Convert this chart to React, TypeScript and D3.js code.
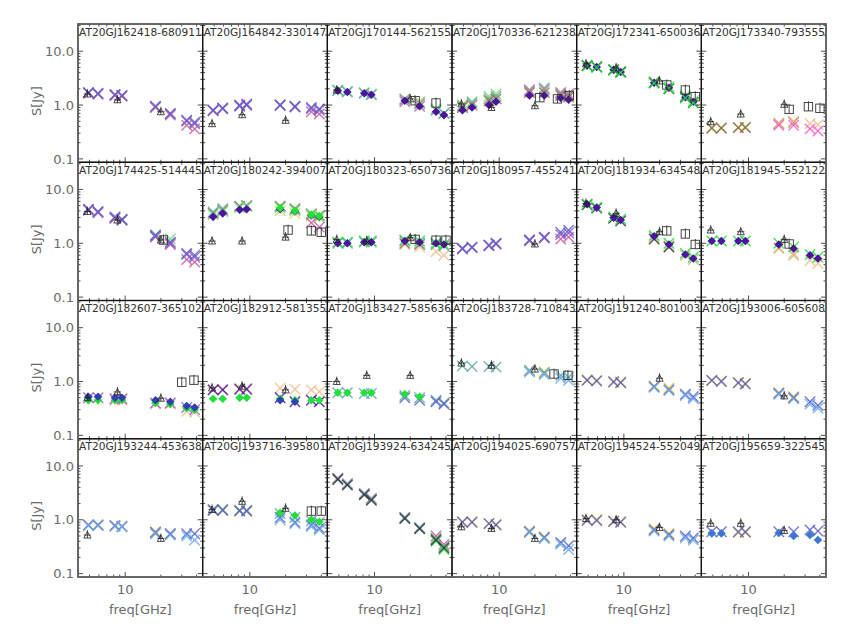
import React from "react";
import * as d3 from "d3";

const TITLES = [
  "AT20GJ162418-680911", "AT20GJ164842-330147", "AT20GJ170144-562155", "AT20GJ170336-621238", "AT20GJ172341-650036", "AT20GJ173340-793555",
  "AT20GJ174425-514445", "AT20GJ180242-394007", "AT20GJ180323-650736", "AT20GJ180957-455241", "AT20GJ181934-634548", "AT20GJ181945-552122",
  "AT20GJ182607-365102", "AT20GJ182912-581355", "AT20GJ183427-585636", "AT20GJ183728-710843", "AT20GJ191240-801003", "AT20GJ193006-605608",
  "AT20GJ193244-453638", "AT20GJ193716-395801", "AT20GJ193924-634245", "AT20GJ194025-690757", "AT20GJ194524-552049", "AT20GJ195659-322545",
];

// frequencies (GHz) of the multi-epoch measurements
const FREQS = [4.9, 5.9, 8.2, 9.4, 18, 24, 33, 38.5];
// AT20G frequencies (triangles)
const TRI_FREQS = [4.8, 8.6, 20];

const X_TICKS_MAJOR = [10];
const X_TICKS_MINOR = [5, 6, 7, 8, 9, 20, 30, 40];
const Y_TICKS_MAJOR = [0.1, 1, 10];
const Y_TICK_LABELS = ["0.1", "1.0", "10.0"];
const Y_TICKS_MINOR = [0.2, 0.3, 0.4, 0.5, 0.6, 0.7, 0.8, 0.9, 2, 3, 4, 5, 6, 7, 8, 9, 20, 30];

type S = { c: string; m: "x" | "d"; v: (number | null)[] };
const _ = null;

const BLUE = "#5a62c8", PURPLE = "#9a5ac8", MAGENTA = "#c85aa8", DPURPLE = "#4b14a0", GREEN = "#6fdc6f",
  BGREEN = "#22e03a", TEAL = "#5fa8a8", BROWN = "#a8643c", TAN = "#f0c090", ORANGE = "#e8b428",
  LBLUE = "#6aaaf0", PINK = "#ff5ad0", LIME = "#c8e050", DARK = "#2a3a3a", KHAKI = "#c8b878", DBLUE = "#3a78d0", NAVY = "#3040b0";

const SERIES_ROW1: S[][] = [
  [
    { c: PURPLE, m: "x", v: [1.7, 1.6, 1.55, 1.5, 0.92, 0.68, 0.5, 0.45] },
    { c: MAGENTA, m: "x", v: [1.65, 1.6, 1.5, 1.45, 0.9, 0.65, 0.42, 0.36] },
    { c: BLUE, m: "x", v: [1.7, 1.65, 1.55, 1.5, 0.95, 0.7, 0.52, 0.48] },
  ],
  [
    { c: MAGENTA, m: "x", v: [0.78, 0.85, 1.0, 1.05, 0.98, 0.92, 0.75, 0.68] },
    { c: PURPLE, m: "x", v: [0.8, 0.86, 0.95, 1.0, 1.0, 0.93, 0.85, 0.8] },
    { c: BLUE, m: "x", v: [0.8, 0.88, 0.98, 1.0, 1.0, 0.95, 0.9, 0.85] },
  ],
  [
    { c: GREEN, m: "x", v: [1.9, 1.8, 1.7, 1.6, 1.3, 1.1, 0.85, 0.7] },
    { c: KHAKI, m: "x", v: [_, _, _, _, 1.3, 1.15, _, _] },
    { c: TEAL, m: "x", v: [1.85, 1.75, 1.65, 1.55, 1.25, 1.05, 0.8, 0.7] },
    { c: MAGENTA, m: "x", v: [_, _, _, _, 1.15, 0.95, _, _] },
    { c: DPURPLE, m: "d", v: [1.85, 1.75, 1.65, 1.55, 1.2, 0.95, 0.75, 0.65] },
  ],
  [
    { c: GREEN, m: "x", v: [1.0, 1.15, 1.45, 1.6, 1.9, 2.1, 1.7, 1.6] },
    { c: PINK, m: "x", v: [_, _, _, _, 1.9, 2.0, 1.7, 1.6] },
    { c: TEAL, m: "x", v: [0.95, 1.1, 1.3, 1.45, 1.8, 1.9, 1.6, 1.5] },
    { c: BROWN, m: "x", v: [0.9, 1.0, 1.2, 1.3, 1.7, 1.7, 1.5, 1.4] },
    { c: DPURPLE, m: "d", v: [0.8, 0.9, 1.0, 1.15, 1.5, 1.5, 1.35, 1.25] },
  ],
  [
    { c: GREEN, m: "x", v: [5.5, 5.2, 4.6, 4.2, 2.7, 2.2, 1.5, 1.2] },
    { c: DARK, m: "x", v: [5.4, 5.1, 4.5, 4.1, 2.6, 2.0, 1.4, 1.1] },
    { c: DPURPLE, m: "d", v: [5.4, 5.1, 4.5, 4.1, 2.6, 2.1, 1.4, 1.15] },
    { c: BGREEN, m: "x", v: [5.3, 5.0, 4.4, 4.0, 2.55, 2.05, 1.35, 1.1] },
  ],
  [
    { c: GREEN, m: "x", v: [0.38, 0.38, 0.38, 0.39, 0.46, _, _, _] },
    { c: BROWN, m: "x", v: [0.37, 0.37, 0.38, 0.38, 0.45, 0.48, _, _] },
    { c: TAN, m: "x", v: [_, _, _, _, 0.45, 0.5, 0.45, 0.43] },
    { c: PINK, m: "x", v: [_, _, _, _, 0.42, 0.42, 0.36, 0.33] },
  ],
];

const SERIES_ROW2: S[][] = [
  [
    { c: GREEN, m: "x", v: [_, _, 2.9, 2.7, 1.45, 1.2, _, _] },
    { c: MAGENTA, m: "x", v: [4.1, 3.7, 2.9, 2.7, 1.3, 0.95, 0.5, 0.45] },
    { c: PURPLE, m: "x", v: [4.2, 3.8, 3.0, 2.7, 1.35, 1.0, 0.62, 0.55] },
    { c: BLUE, m: "x", v: [4.3, 3.9, 3.1, 2.8, 1.4, 1.05, 0.65, 0.6] },
  ],
  [
    { c: BROWN, m: "x", v: [3.6, 4.1, 4.9, 5.0, 4.9, 4.4, 3.5, 3.3] },
    { c: TEAL, m: "x", v: [3.8, 4.4, 4.8, 5.0, 4.7, 4.2, 3.5, 3.2] },
    { c: LIME, m: "x", v: [_, _, _, _, 4.0, 3.6, 3.2, 3.0] },
    { c: GREEN, m: "x", v: [3.4, 3.9, 4.6, 4.8, 4.6, 4.1, 3.4, 3.2] },
    { c: MAGENTA, m: "x", v: [_, _, _, _, _, _, 2.4, 2.0] },
    { c: DPURPLE, m: "d", v: [3.1, 3.6, 4.2, 4.3, 4.3, 3.9, 3.3, 3.1] },
    { c: BGREEN, m: "d", v: [_, _, _, _, 4.5, 4.0, 3.4, 3.2] },
  ],
  [
    { c: TAN, m: "x", v: [_, _, _, _, 0.95, 0.85, 0.7, 0.6] },
    { c: BROWN, m: "x", v: [_, _, _, _, 1.0, 0.95, _, _] },
    { c: TEAL, m: "x", v: [1.0, 1.0, 1.05, 1.05, 1.1, 1.0, 0.95, 0.9] },
    { c: BGREEN, m: "x", v: [1.05, 1.05, 1.1, 1.1, 1.15, 1.1, 1.0, 0.95] },
    { c: DPURPLE, m: "d", v: [1.0, 1.0, 1.05, 1.05, 1.1, 1.05, 1.0, 0.95] },
  ],
  [
    { c: MAGENTA, m: "x", v: [0.78, 0.83, 0.9, 0.97, 1.1, 1.25, 1.2, 1.3] },
    { c: PURPLE, m: "x", v: [0.8, 0.84, 0.92, 0.98, 1.15, 1.28, 1.45, 1.55] },
    { c: BLUE, m: "x", v: [0.8, 0.85, 0.92, 1.0, 1.15, 1.3, 1.6, 1.75] },
  ],
  [
    { c: KHAKI, m: "x", v: [_, _, _, _, 1.3, 0.9, 0.6, 0.5] },
    { c: DARK, m: "x", v: [5.2, 4.5, 2.9, 2.6, 1.2, 0.85, _, _] },
    { c: BGREEN, m: "x", v: [5.4, 4.7, 3.1, 2.8, 1.4, 1.0, 0.65, 0.55] },
    { c: DPURPLE, m: "d", v: [5.3, 4.6, 3.0, 2.7, 1.35, 0.95, 0.62, 0.52] },
  ],
  [
    { c: TAN, m: "x", v: [_, _, _, _, 0.85, 0.65, 0.48, 0.42] },
    { c: KHAKI, m: "x", v: [_, _, _, _, 0.8, 0.6, _, _] },
    { c: BGREEN, m: "x", v: [1.1, 1.1, 1.1, 1.1, 1.0, 0.85, 0.62, 0.55] },
    { c: DPURPLE, m: "d", v: [1.1, 1.1, 1.1, 1.1, 0.95, 0.8, 0.6, 0.52] },
  ],
];

const SERIES_ROW3: S[][] = [
  [
    { c: TAN, m: "x", v: [_, _, 0.45, 0.45, 0.38, 0.38, 0.28, 0.27] },
    { c: PURPLE, m: "x", v: [0.5, 0.5, 0.48, 0.48, 0.4, 0.4, 0.33, 0.3] },
    { c: BGREEN, m: "d", v: [0.45, 0.45, 0.45, 0.45, 0.4, 0.38, 0.32, 0.3] },
    { c: NAVY, m: "d", v: [0.52, 0.52, 0.5, 0.5, 0.45, 0.42, 0.35, 0.33] },
  ],
  [
    { c: TAN, m: "x", v: [0.72, 0.72, 0.75, 0.75, 0.75, 0.72, 0.7, 0.65] },
    { c: DPURPLE, m: "x", v: [0.7, 0.7, 0.72, 0.72, 0.5, 0.42, 0.45, 0.42] },
    { c: BGREEN, m: "d", v: [0.48, 0.48, 0.5, 0.5, 0.48, 0.45, 0.45, 0.45] },
    { c: NAVY, m: "d", v: [_, _, _, _, 0.45, 0.42, _, _] },
  ],
  [
    { c: TEAL, m: "x", v: [0.62, 0.62, 0.6, 0.6, 0.55, 0.5, 0.45, 0.4] },
    { c: BLUE, m: "x", v: [_, _, _, _, 0.5, 0.45, 0.42, 0.38] },
    { c: BGREEN, m: "d", v: [0.62, 0.62, 0.62, 0.62, 0.58, 0.52, _, _] },
  ],
  [
    { c: ORANGE, m: "x", v: [_, _, _, _, 1.6, 1.5, _, _] },
    { c: TEAL, m: "x", v: [1.95, 1.9, 1.9, 1.85, 1.6, 1.45, 1.3, 1.2] },
    { c: LBLUE, m: "x", v: [_, _, _, _, 1.5, 1.35, 1.15, 1.05] },
  ],
  [
    { c: ORANGE, m: "x", v: [1.08, 1.05, 1.0, 0.98, 0.82, 0.75, _, _] },
    { c: BLUE, m: "x", v: [1.05, 1.02, 0.98, 0.95, 0.8, 0.7, 0.58, 0.52] },
    { c: LBLUE, m: "x", v: [_, _, _, _, 0.78, 0.68, 0.55, 0.48] },
  ],
  [
    { c: ORANGE, m: "x", v: [1.05, 1.02, 0.95, 0.92, 0.62, 0.52, _, _] },
    { c: BLUE, m: "x", v: [1.05, 1.0, 0.95, 0.9, 0.6, 0.5, 0.42, 0.36] },
    { c: LBLUE, m: "x", v: [_, _, _, _, 0.58, 0.48, 0.38, 0.32] },
  ],
];

const SERIES_ROW4: S[][] = [
  [
    { c: ORANGE, m: "x", v: [0.8, 0.8, 0.78, 0.76, 0.6, 0.55, _, _] },
    { c: BLUE, m: "x", v: [0.8, 0.8, 0.78, 0.75, 0.58, 0.55, 0.55, 0.55] },
    { c: LBLUE, m: "x", v: [0.78, 0.78, 0.76, 0.74, 0.55, 0.52, 0.5, 0.42] },
  ],
  [
    { c: ORANGE, m: "x", v: [1.5, 1.5, 1.5, 1.45, _, _, _, _] },
    { c: TEAL, m: "x", v: [1.55, 1.55, 1.5, 1.5, 1.3, 1.1, 0.95, 0.9] },
    { c: BLUE, m: "x", v: [1.5, 1.5, 1.45, 1.45, 1.1, 0.9, 0.8, 0.7] },
    { c: LBLUE, m: "x", v: [_, _, _, _, 1.0, 0.85, 0.75, 0.65] },
    { c: BGREEN, m: "d", v: [_, _, _, _, 1.35, 1.2, 1.0, 0.92] },
  ],
  [
    { c: MAGENTA, m: "x", v: [5.9, 4.7, 3.1, 2.5, 1.1, 0.7, 0.5, 0.35] },
    { c: ORANGE, m: "x", v: [_, _, _, _, _, _, 0.45, 0.32] },
    { c: TEAL, m: "x", v: [5.8, 4.6, 3.0, 2.4, 1.1, 0.72, 0.45, 0.32] },
    { c: BGREEN, m: "x", v: [_, _, _, _, _, _, 0.4, 0.28] },
    { c: DARK, m: "x", v: [5.6, 4.4, 2.9, 2.3, 1.05, 0.68, 0.42, 0.3] },
  ],
  [
    { c: ORANGE, m: "x", v: [0.92, 0.92, 0.85, 0.82, 0.62, 0.48, _, _] },
    { c: BLUE, m: "x", v: [0.9, 0.9, 0.85, 0.8, 0.6, 0.47, 0.38, 0.33] },
    { c: LBLUE, m: "x", v: [_, _, _, _, 0.58, 0.45, 0.35, 0.28] },
  ],
  [
    { c: ORANGE, m: "x", v: [1.0, 1.0, 0.95, 0.92, 0.68, 0.55, _, _] },
    { c: BLUE, m: "x", v: [0.98, 0.97, 0.93, 0.9, 0.65, 0.53, 0.5, 0.46] },
    { c: LBLUE, m: "x", v: [_, _, _, _, 0.62, 0.5, 0.46, 0.42] },
  ],
  [
    { c: ORANGE, m: "x", v: [_, _, 0.58, 0.58, _, _, _, _] },
    { c: BLUE, m: "x", v: [0.6, 0.6, 0.6, 0.6, 0.6, 0.6, 0.65, 0.62] },
    { c: DBLUE, m: "d", v: [0.56, 0.56, _, _, 0.57, 0.5, 0.52, 0.42] },
  ],
];

// AT20G values at 4.8, 8.6, 20 GHz (triangles)
const TRIANGLES: (number | null)[][] = [
  [1.6, 1.25, 0.75], [0.45, 0.66, 0.52], [1.9, _, 1.3], [1.05, 0.9, 0.97], [5.8, 4.9, 2.8], [0.49, 0.68, 1.03],
  [3.9, 2.7, 1.15], [1.1, 1.1, 1.3], [1.18, 1.1, 1.27], [_, _, 0.97], [5.5, 3.6, 1.64], [1.76, 1.64, 1.18],
  [0.5, 0.64, 0.49], [0.76, 0.82, 0.7], [1.0, 1.3, 1.3], [2.2, 2.0, 1.7], [_, _, 1.15], [_, _, 0.54],
  [0.52, _, 0.45], [1.55, 2.2, 1.63], [_, _, _], [0.74, 0.69, 0.45], [1.05, 1.0, 0.72], [0.86, 0.86, 0.63],
];

// other archival measurements: [freq GHz, flux Jy] (squares)
const SQUARES: [number, number][][] = [
  [], [], [[22, 1.2], [33, 1.09]], [[22, 1.37], [31, 1.3], [39, 1.5]], [[23, 2.36], [33, 1.9], [40, 1.43]], [[22, 0.83], [32, 0.93], [40, 0.87]],
  [[21, 1.15]], [[21, 1.76], [33, 1.7], [40, 1.6]], [[22, 1.18], [33, 1.14], [40, 1.14]], [], [[23, 1.7], [33, 1.49], [40, 0.95]], [[22, 0.97]],
  [[30, 0.97], [38, 1.06]], [], [], [[29, 1.38], [38, 1.3]], [], [],
  [], [[33, 1.45], [40, 1.45]], [], [], [], [],
];

const SERIES = [...SERIES_ROW1, ...SERIES_ROW2, ...SERIES_ROW3, ...SERIES_ROW4];

const LEFT = 78, RIGHT = 826, TOP = 24, BOTTOM = 577;
const NC = 6, NR = 4;
const PW = (RIGHT - LEFT) / NC, PH = (BOTTOM - TOP) / NR;
const LABEL = "#6a6a6a";
const FONT = "'DejaVu Sans', 'Liberation Sans', sans-serif";

function Cross({ x, y, c }: { x: number; y: number; c: string }) {
  const r = 5.2;
  return (
    <g stroke={c} strokeWidth={1.4} strokeOpacity={0.85}>
      <line x1={x - r} y1={y - r} x2={x + r} y2={y + r} />
      <line x1={x - r} y1={y + r} x2={x + r} y2={y - r} />
    </g>
  );
}

function Panel({ i }: { i: number }) {
  const col = i % NC, row = Math.floor(i / NC);
  const x0 = LEFT + col * PW, y0 = TOP + row * PH;
  const x = d3.scaleLog().domain([4, 45]).range([x0, x0 + PW]);
  const y = d3.scaleLog().domain([0.0865, 32]).range([y0 + PH, y0]);
  const series = SERIES[i];
  const tri = TRIANGLES[i];
  const sq = SQUARES[i];
  return (
    <g>
      <defs>
        <clipPath id={`clip${i}`}>
          <rect x={x0} y={y0} width={PW} height={PH} />
        </clipPath>
      </defs>
      <g clipPath={`url(#clip${i})`}>
        {series.map((s, si) =>
          s.v.map((v, k) => {
            if (v == null) return null;
            const px = x(FREQS[k]), py = y(v);
            if (s.m === "x") return <Cross key={`${si}-${k}`} x={px} y={py} c={s.c} />;
            const r = 4.3;
            return (
              <polygon key={`${si}-${k}`} fill={s.c}
                points={`${px},${py - r} ${px + r},${py} ${px},${py + r} ${px - r},${py}`} />
            );
          })
        )}
        {tri.map((v, k) => {
          if (v == null) return null;
          const px = x(TRI_FREQS[k]), py = y(v);
          return (
            <g key={`t${k}`} stroke="#222" strokeWidth={0.8} fill="none">
              <path d={`M${px - 3.6},${py + 3} L${px},${py - 3.5} L${px + 3.6},${py + 3} Z`} />
              <line x1={px} y1={py - 5} x2={px} y2={py + 3} />
              <line x1={px - 3.6} y1={py} x2={px + 3.6} y2={py} />
            </g>
          );
        })}
        {sq.map(([f, v], k) => {
          const px = x(f), py = y(v);
          return (
            <g key={`s${k}`} stroke="#333" strokeWidth={0.9} fill="none">
              <rect x={px - 4.2} y={py - 4.2} width={8.4} height={8.4} />
              <line x1={px} y1={py - 5.5} x2={px} y2={py + 4.2} />
            </g>
          );
        })}
      </g>
      <g stroke="#222" strokeWidth={0.8}>
        {Y_TICKS_MAJOR.map((t) => (
          <g key={`ym${t}`}>
            <line x1={x0} x2={x0 + 5} y1={y(t)} y2={y(t)} />
            <line x1={x0 + PW} x2={x0 + PW - 5} y1={y(t)} y2={y(t)} />
          </g>
        ))}
        {Y_TICKS_MINOR.map((t) => (
          <g key={`yn${t}`}>
            <line x1={x0} x2={x0 + 2.5} y1={y(t)} y2={y(t)} />
            <line x1={x0 + PW} x2={x0 + PW - 2.5} y1={y(t)} y2={y(t)} />
          </g>
        ))}
        {X_TICKS_MAJOR.map((t) => (
          <g key={`xm${t}`}>
            <line x1={x(t)} x2={x(t)} y1={y0 + PH} y2={y0 + PH - 5} />
            <line x1={x(t)} x2={x(t)} y1={y0} y2={y0 + 5} />
          </g>
        ))}
        {X_TICKS_MINOR.map((t) => (
          <g key={`xn${t}`}>
            <line x1={x(t)} x2={x(t)} y1={y0 + PH} y2={y0 + PH - 2.5} />
            <line x1={x(t)} x2={x(t)} y1={y0} y2={y0 + 2.5} />
          </g>
        ))}
      </g>
      <rect x={x0} y={y0} width={PW} height={PH} fill="none" stroke="#111" strokeWidth={1.2} />
      <text x={x0 + 1} y={y0 + 11.5} fontSize={10.5} fill="#333" fontFamily={FONT}
        textLength={PW - 2} lengthAdjust="spacingAndGlyphs">{TITLES[i]}</text>
      {col === 0 && (
        <g fontFamily={FONT} fill={LABEL} fontSize={13}>
          {Y_TICKS_MAJOR.map((t, k) => (
            <text key={t} x={x0 - 4} y={y(t)} dy="0.36em" textAnchor="end">{Y_TICK_LABELS[k]}</text>
          ))}
          <text transform={`translate(${x0 - 37},${y0 + PH / 2 + 8}) rotate(-90)`} textAnchor="middle">S[Jy]</text>
        </g>
      )}
      {row === NR - 1 && (
        <g fontFamily={FONT} fill={LABEL} fontSize={13} textAnchor="middle">
          {X_TICKS_MAJOR.map((t) => (
            <text key={t} x={x(t)} y={y0 + PH + 17}>{t}</text>
          ))}
          <text x={x0 + PW / 2} y={y0 + PH + 37}>freq[GHz]</text>
        </g>
      )}
    </g>
  );
}

export default function App() {
  return (
    <svg width={850} height={627} style={{ position: "absolute", left: 0, top: 0, background: "#fff" }}>
      <rect width={850} height={627} fill="#fff" />
      {TITLES.map((_t, i) => (
        <Panel key={i} i={i} />
      ))}
      <rect x={LEFT} y={TOP} width={RIGHT - LEFT} height={BOTTOM - TOP} fill="none" stroke="#666" strokeWidth={1.6} />
    </svg>
  );
}
